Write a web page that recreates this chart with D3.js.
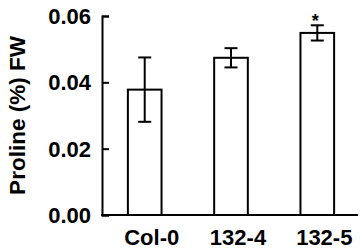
<!DOCTYPE html>
<meta charset="utf-8">
<style>
body { margin: 0; background: #fff; }
text { font-family: "Liberation Sans", Arial, sans-serif; font-weight: bold; }
</style>
<body>
<script src="https://d3js.org/d3.v7.min.js"></script>
<script>

var lines = ["Col-0", "132-4", "132-5"];
var proline = [0.0378, 0.0474, 0.0549];
var errs = [0.0097, 0.0029, 0.0023];
var marks = ["", "", "*"];
var yTicks = [0.00, 0.02, 0.04, 0.06];

var width = 360, height = 250;

var svg = d3.select("body").append("svg")
    .attr("width", width)
    .attr("height", height);

var x = d3.scaleBand()
    .domain(lines)
    .range([102, 360])
    .paddingInner(0.61)
    .paddingOuter(0.3);

var y = d3.scaleLinear()
    .domain([0, 0.06])
    .range([215, 16]);

// y axis, ticks pointing inward
var yAxis = svg.append("g")
    .attr("transform", "translate(102,0)")
    .call(d3.axisRight(y).tickValues(yTicks).tickFormat(d3.format(".2f")).tickSizeOuter(0).tickSize(7));
yAxis.select(".domain").attr("stroke-width", 2);
yAxis.selectAll(".tick line").attr("stroke-width", 2);
yAxis.selectAll(".tick text")
    .attr("x", -11)
    .attr("dy", "0.34em")
    .attr("text-anchor", "end")
    .attr("font-size", 22)
    .attr("font-family", null);

// x axis line
svg.append("line")
    .attr("x1", 101).attr("x2", 358)
    .attr("y1", y(0)).attr("y2", y(0))
    .attr("stroke", "#000").attr("stroke-width", 2);

svg.selectAll(".bar")
    .data(proline)
    .enter().append("rect")
    .attr("class", "bar")
    .attr("x", function(d, i) { return x(lines[i]); })
    .attr("y", function(d) { return y(d); })
    .attr("width", x.bandwidth())
    .attr("height", function(d) { return y(0) - y(d); })
    .attr("fill", "#fff")
    .attr("stroke", "#000")
    .attr("stroke-width", 2);

var eb = svg.selectAll(".err")
    .data(proline)
    .enter().append("g")
    .attr("class", "err")
    .attr("transform", function(d, i) { return "translate(" + (x(lines[i]) + x.bandwidth() / 2) + ",0)"; });

eb.append("line")
    .attr("y1", function(d, i) { return y(d + errs[i]); })
    .attr("y2", function(d, i) { return y(d - errs[i]); })
    .attr("stroke", "#000").attr("stroke-width", 2);
eb.append("line")
    .attr("x1", -6.5).attr("x2", 6.5)
    .attr("y1", function(d, i) { return y(d + errs[i]); })
    .attr("y2", function(d, i) { return y(d + errs[i]); })
    .attr("stroke", "#000").attr("stroke-width", 2);
eb.append("line")
    .attr("x1", -6.5).attr("x2", 6.5)
    .attr("y1", function(d, i) { return y(d - errs[i]); })
    .attr("y2", function(d, i) { return y(d - errs[i]); })
    .attr("stroke", "#000").attr("stroke-width", 2);
eb.append("text")
    .attr("x", -2)
    .attr("y", function(d, i) { return y(d + errs[i]) + 2; })
    .attr("text-anchor", "middle")
    .attr("font-size", 18)
    .text(function(d, i) { return marks[i]; });

// category labels sit slightly right of the bar centres in the original
svg.selectAll(".xlab")
    .data(lines)
    .enter().append("text")
    .attr("class", "xlab")
    .attr("x", function(d) { return x(d) + x.bandwidth() / 2 + 7; })
    .attr("y", 245)
    .attr("text-anchor", "middle")
    .attr("font-size", 22)
    .text(function(d) { return d; });

svg.append("text")
    .attr("transform", "translate(24.5,115.5) rotate(-90)")
    .attr("text-anchor", "middle")
    .attr("font-size", 22.5)
    .text("Proline (%) FW");

</script>
</body>
